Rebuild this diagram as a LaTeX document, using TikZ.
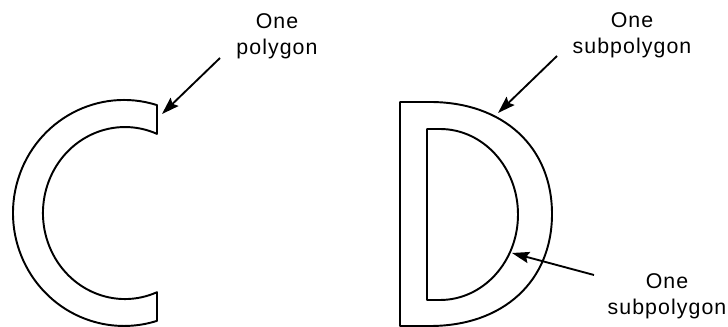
\documentclass[tikz,border=0pt]{standalone}
\usepackage{fontspec}
\newfontfamily\lblfont{Liberation Sans}[LetterSpace=5]
\usetikzlibrary{arrows.meta}
\begin{document}
\begin{tikzpicture}[x=0.75pt,y=-0.75pt,
  outline/.style={line width=1.45pt,line join=round},
  pointer/.style={line width=1.4pt,-{Stealth[length=13pt,width=8.5pt,inset=2pt]}},
  label/.style={font=\lblfont\fontsize{16pt}{19.5pt}\selectfont,align=center,anchor=base,inner sep=0pt}]
\useasboundingbox (0,0) rectangle (728,327);
% C shape: one polygon
\draw[outline] (157,105.1) arc[start angle=-72.7,end angle=-287.3,x radius=111,y radius=113]
  -- (157,292.2) arc[start angle=67,end angle=293,x radius=82,y radius=86] -- cycle;
% D shape: outer subpolygon
\draw[outline] (400,102) -- (430,102) .. controls (503.2,102) and (552,146.8) .. (552,214)
  .. controls (552,281.2) and (503.2,326) .. (430,326) -- (400,326) -- cycle;
% D shape: inner subpolygon
\draw[outline] (427,129) -- (440,129) arc[start angle=-90,end angle=90,x radius=78,y radius=85.5]
  -- (427,300) -- cycle;
% labels (anchor = baseline of the last line)
\node[label] (l1) at (277,55) {One\\polygon};
\node[label] (l2) at (632,54) {One\\subpolygon};
\node[label] (l3) at (667,315) {One\\subpolygon};
% arrow ends
\coordinate (t1) at (220,58);
\coordinate (h1) at (162,114);
\coordinate (t2) at (557,56);
\coordinate (h2) at (498,113);
\coordinate (t3) at (594,275);
\coordinate (h3) at (512,253);
\draw[pointer] (t1) -- (h1);
\draw[pointer] (t2) -- (h2);
\draw[pointer] (t3) -- (h3);
\end{tikzpicture}
\end{document}
